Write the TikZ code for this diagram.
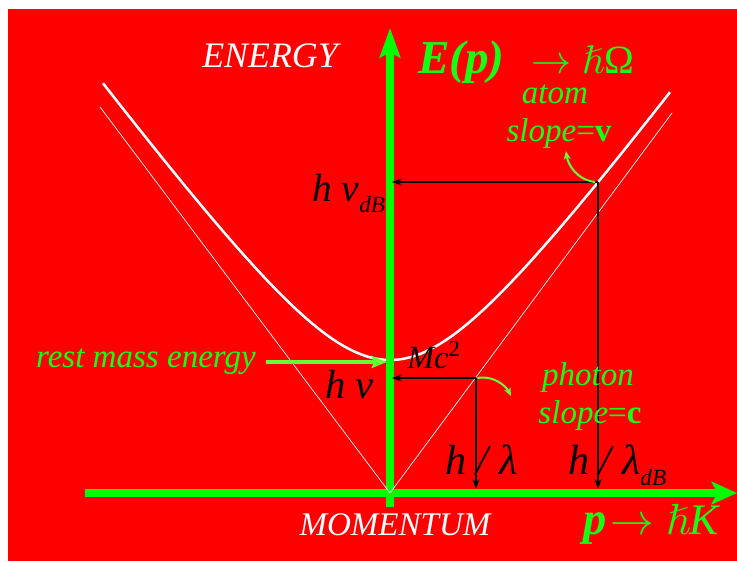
\RequirePackage{fix-cm}
\documentclass[tikz,border=0pt]{standalone}
\usepackage{amssymb}
\usepackage{fontspec}
\setmainfont{Liberation Serif}
\usetikzlibrary{arrows.meta}

\definecolor{bgred}{RGB}{255,0,0}
\definecolor{axisgreen}{RGB}{0,255,0}
\definecolor{textgreen}{RGB}{20,255,20}
\definecolor{pointergreen}{RGB}{102,255,51}
\newcommand{\setsize}[1]{\fontsize{#1}{#1}\selectfont}
\newcommand{\dBsub}{\raisebox{-8pt}{\setsize{16.5}\itshape dB}}

\begin{document}
\begin{tikzpicture}[
  x=0.025cm, y=-0.025cm,
  axis/.style={draw=axisgreen, line width=5pt},
  curve/.style={draw=white, line width=1.8pt},
  cone/.style={draw=white, line width=0.5pt},
  proj/.style={draw=black, line width=1pt, -{Stealth[length=7pt, width=5pt]}},
  pointer/.style={draw=pointergreen, line width=1.4pt, -{Stealth[length=6pt, width=5pt]}},
  restarrow/.style={draw=pointergreen, line width=3pt, -{Stealth[length=11pt, width=8.5pt, inset=2pt]}},
  wlabel/.style={text=white, font={\itshape\setsize{23.5}}, inner sep=0pt},
  glabel/.style={text=textgreen, font={\itshape\setsize{23.5}}, inner sep=0pt},
  blabel/.style={text=black, font={\itshape\setsize{30}}, inner sep=0pt}
]
  % Fondo
  \useasboundingbox (0,0) rectangle (737,561);
  \fill[white] (0,0) rectangle (737,561);
  \fill[bgred] (8,9) rectangle (737,561);

  % Puntos de referencia
  \coordinate (O) at (390,493);
  \coordinate (Etip) at (390,28);
  \coordinate (Ebot) at (390,507);
  \coordinate (Pleft) at (85,493);
  \coordinate (Ptip) at (737,493);
  \coordinate (coneL) at (100,107);
  \coordinate (coneR) at (672,113);
  \coordinate (atom) at (598,182);
  \coordinate (atomE) at (392,182);
  \coordinate (atomP) at (598,489);
  \coordinate (photon) at (476,378);
  \coordinate (photonE) at (392,378);
  \coordinate (photonP) at (476,489);
  \coordinate (restTip) at (387,362);
  \coordinate (atomTip) at (566,151);
  \coordinate (photonTip) at (511,396);

  % Curva de dispersion del atomo
  \draw[curve] plot[domain=-287:280, samples=100, smooth]
    ({390+\x},{493-100*sqrt(1.7689+(0.0135*\x)^2)});

  % Ejes
  \draw[axis, -{Stealth[length=21pt, width=14.5pt, inset=4pt]}] (Ebot) -- (Etip);
  \draw[axis, -{Stealth[length=18pt, width=16pt, inset=4pt]}] (Pleft) -- (Ptip);

  % Cono de luz (foton)
  \draw[cone] (coneL) -- (O) -- (coneR);

  % Proyecciones sobre los ejes
  \draw[proj] (atom) -- (atomE);
  \draw[proj] (atom) -- (atomP);
  \draw[proj] (photon) -- (photonE);
  \draw[proj] (photon) -- (photonP);

  % Flechas de pendiente
  \draw[pointer] ([xshift=-2pt]atom) .. controls +(-18,-2) and +(2,14) .. (atomTip);
  \draw[pointer] ([xshift=1pt]photon) .. controls +(16,-3) and +(-5,-10) .. (photonTip);

  % Etiquetas de los ejes
  \node[wlabel, font={\itshape\setsize{25.5}}, anchor=base] (energy) at (270,67) {ENERGY};
  \node[wlabel, anchor=base] (momentum) at (395,535) {MOMENTUM};
  \node[inner sep=0pt, text=textgreen, anchor=base west] (eofp) at (418,73)
    {\setsize{33.5}\bfseries\itshape E(p)\hspace{19pt}\setsize{28.5}\mdseries$\rightarrow\hslash$\upshape Ω};
  \node[inner sep=0pt, text=textgreen, anchor=base west] (pofk) at (583,534)
    {\setsize{33}\bfseries\itshape p\hspace{3pt}\setsize{31}\mdseries$\rightarrow\hslash$\textit{K}};

  % Pendientes
  \node[glabel, anchor=base] (atomlbl) at (555,103) {atom};
  \node[glabel, anchor=base] (atomslope) at (559,141) {slope\textup{=}\textbf{\upshape v}};
  \node[glabel, anchor=base] (photonlbl) at (588,385) {photon};
  \node[glabel, anchor=base] (photonslope) at (590,423) {slope\textup{=}\textbf{\upshape c}};

  % Energia en reposo
  \node[glabel, anchor=base] (restlbl) at (146,367) {rest mass energy};
  \draw[restarrow] ([xshift=7pt]restlbl.east |- restTip) -- (restTip);

  % Frecuencias y longitudes de onda
  \node[blabel, font={\setsize{28}}, anchor=base west] (nudb) at (312,201) {\textit{h ν}\dBsub};
  \node[blabel, font={\setsize{29}}, anchor=base west] (nu) at (325,398) {\textit{h ν}};
  \node[blabel, font={\setsize{23}}, anchor=base west] (mc) at (407,368) {\textit{Mc}\textsuperscript{2}};
  \node[blabel, anchor=base west] (lam) at (445,474) {\textit{h / λ}};
  \node[blabel, anchor=base west] (lamdb) at (568,474) {\textit{h / λ}\dBsub};
\end{tikzpicture}
\end{document}
